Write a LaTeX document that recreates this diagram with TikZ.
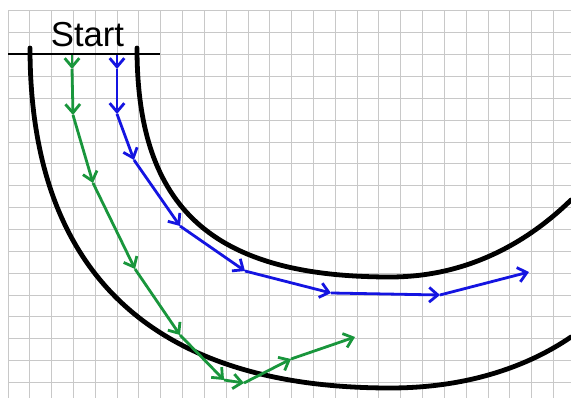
\documentclass[tikz,border=0pt]{standalone}
\usepackage{fontspec}
\setmainfont{Liberation Sans}
\usetikzlibrary{arrows.meta}
\definecolor{gridgray}{RGB}{200,200,200}
\definecolor{pathblue}{RGB}{20,20,225}
\definecolor{pathgreen}{RGB}{25,150,60}
\tikzset{
  gridline/.style={draw=gridgray, line width=0.75pt},
  wall/.style={draw=black, line width=3.6pt, line cap=round},
  startline/.style={draw=black, line width=1.4pt},
  bluearrow/.style={draw=pathblue, line width=2.1pt, -{Straight Barb[length=6.5pt,width=11pt]}},
  greenarrow/.style={draw=pathgreen, line width=2.1pt, -{Straight Barb[length=6.5pt,width=11pt]}},
  label/.style={font=\fontsize{26pt}{30pt}\selectfont, inner sep=0pt, anchor=base}
}
\begin{document}
\begin{tikzpicture}[x=0.75pt, y=-0.75pt]
\useasboundingbox (0,0) rectangle (571,398);
\fill[white] (0,0) rectangle (571,398);
% grid
\foreach \i in {0,...,25} {
  \draw[gridline] ({8+21.82*\i},11) -- ({8+21.82*\i},398);
}
\foreach \j in {0,...,17} {
  \draw[gridline] (8,{11+21.85*\j}) -- (571,{11+21.85*\j});
}
% start line and label
\coordinate (sl) at (8,54);
\coordinate (sr) at (160,54);
\draw[startline] (sl) -- (sr);
\node[label] (start) at (87.5,47) {Start};
% track walls
\draw[wall] (30,48) .. controls (30,272) and (152,388) .. (390,388)
  .. controls (470,388) and (530,365) .. (571,337);
\draw[wall] (137,48) .. controls (137,209) and (213,277) .. (390,277)
  .. controls (470,277) and (530,240) .. (571,200);
% blue path
\coordinate (b0) at (117,55);
\coordinate (b1) at (117,69);
\coordinate (b2) at (117,114);
\coordinate (b3) at (134,160);
\coordinate (b4) at (180,226);
\coordinate (b5) at (245,271);
\coordinate (b6) at (331,293);
\coordinate (b7) at (440,295);
\coordinate (b8) at (529,272);
\draw[bluearrow] (b0) -- (b1);
\draw[bluearrow] (b1) -- (b2);
\draw[bluearrow] (b2) -- (b3);
\draw[bluearrow] (b3) -- (b4);
\draw[bluearrow] (b4) -- (b5);
\draw[bluearrow] (b5) -- (b6);
\draw[bluearrow] (b6) -- (b7);
\draw[bluearrow] (b7) -- (b8);
% green path
\coordinate (g0) at (72,55);
\coordinate (g1) at (72,69);
\coordinate (g2) at (73,115);
\coordinate (g3) at (93,183);
\coordinate (g4) at (135,269);
\coordinate (g5) at (180,335);
\coordinate (g6) at (224,380);
\coordinate (g7) at (244,383);
\coordinate (g8) at (291,359);
\coordinate (g9) at (355,337);
\draw[greenarrow] (g0) -- (g1);
\draw[greenarrow] (g1) -- (g2);
\draw[greenarrow] (g2) -- (g3);
\draw[greenarrow] (g3) -- (g4);
\draw[greenarrow] (g4) -- (g5);
\draw[greenarrow] (g5) -- (g6);
\draw[greenarrow] (g6) -- (g7);
\draw[greenarrow] (g7) -- (g8);
\draw[greenarrow] (g8) -- (g9);
\end{tikzpicture}
\end{document}
